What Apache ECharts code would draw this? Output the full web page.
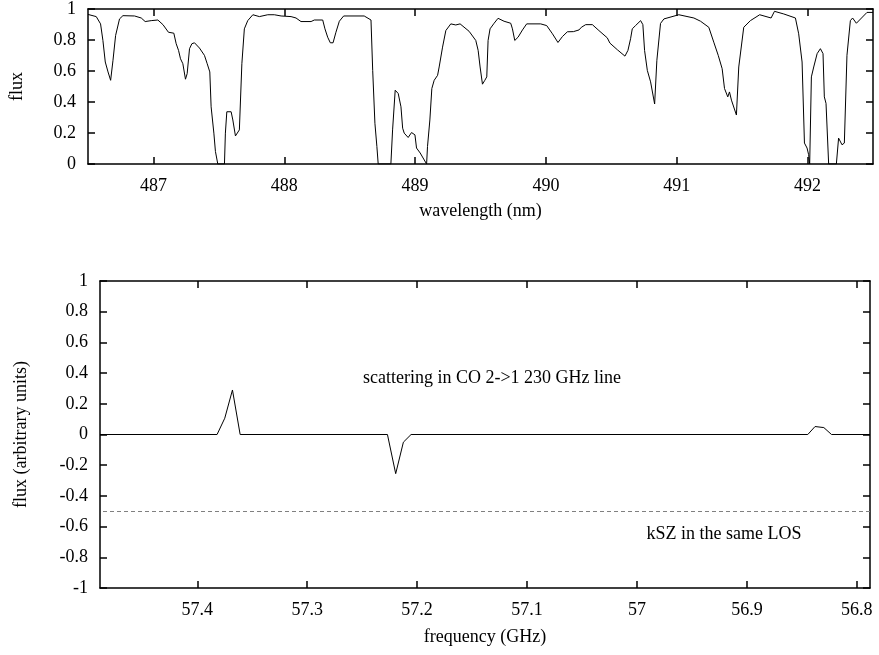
<!DOCTYPE html>
<html><head><meta charset="utf-8">
<script src="https://cdn.jsdelivr.net/npm/echarts@6/dist/echarts.min.js"></script>
<style>html,body{margin:0;padding:0;background:#fff}#c{width:879px;height:655px}</style>
</head><body><div id="c"></div>
<script>
// ---- top panel: absorption spectrum ----
const wavelength = [486.5,486.505,486.563,486.596,486.614,486.632,486.653,486.673,486.691,486.711,486.741,486.767,486.856,486.907,486.937,486.983,487.034,487.073,487.115,487.156,487.174,487.192,487.207,487.225,487.245,487.258,487.276,487.294,487.314,487.352,487.390,487.411,487.431,487.441,487.462,487.474,487.492,487.543,487.550,487.561,487.594,487.607,487.627,487.657,487.676,487.695,487.721,487.760,487.810,487.874,487.924,487.976,488.052,488.090,488.128,488.205,488.230,488.294,488.311,488.332,488.352,488.373,488.395,488.421,488.454,488.611,488.663,488.676,488.693,488.708,488.718,488.815,488.828,488.848,488.871,488.892,488.905,488.917,488.947,488.973,488.999,489.011,489.039,489.088,489.095,489.113,489.128,489.146,489.172,489.184,489.210,489.235,489.273,489.311,489.344,489.413,489.464,489.482,489.497,489.515,489.533,489.548,489.558,489.573,489.604,489.634,489.680,489.731,489.744,489.762,489.787,489.821,489.853,489.960,490.006,490.050,490.092,490.126,490.164,490.210,490.253,490.271,490.304,490.355,490.405,490.469,490.489,490.546,490.604,490.627,490.647,490.660,490.685,490.724,490.741,490.754,490.775,490.800,490.831,490.848,490.876,490.902,491.016,491.131,491.182,491.245,491.283,491.317,491.347,491.365,491.390,491.403,491.418,491.456,491.474,491.512,491.563,491.634,491.721,491.747,491.818,491.907,491.932,491.958,491.976,491.996,492.008,492.016,492.029,492.047,492.073,492.098,492.118,492.128,492.141,492.161,492.220,492.237,492.263,492.281,492.301,492.327,492.344,492.373,492.454,492.5];
const flux = [0.965,0.972,0.951,0.904,0.797,0.658,0.594,0.540,0.669,0.829,0.936,0.957,0.955,0.942,0.919,0.925,0.929,0.899,0.850,0.844,0.776,0.733,0.679,0.647,0.547,0.583,0.744,0.776,0.782,0.748,0.701,0.647,0.594,0.369,0.199,0.081,0,0,0.199,0.337,0.337,0.284,0.181,0.220,0.647,0.872,0.925,0.963,0.951,0.963,0.963,0.955,0.951,0.942,0.919,0.919,0.929,0.929,0.872,0.818,0.782,0.782,0.850,0.921,0.955,0.955,0.929,0.604,0.263,0.113,0,0,0.220,0.476,0.455,0.369,0.231,0.199,0.171,0.203,0.188,0.103,0.071,0,0.113,0.284,0.487,0.540,0.572,0.626,0.754,0.861,0.904,0.897,0.904,0.856,0.797,0.733,0.626,0.515,0.540,0.562,0.797,0.872,0.908,0.940,0.921,0.908,0.872,0.797,0.818,0.865,0.904,0.904,0.893,0.840,0.784,0.822,0.853,0.854,0.865,0.882,0.899,0.899,0.861,0.814,0.780,0.737,0.696,0.733,0.808,0.872,0.893,0.925,0.899,0.733,0.604,0.530,0.387,0.669,0.907,0.936,0.963,0.942,0.921,0.882,0.786,0.701,0.615,0.487,0.433,0.465,0.412,0.316,0.626,0.882,0.925,0.963,0.942,0.985,0.968,0.942,0.840,0.658,0.135,0.103,0.060,0,0.562,0.626,0.712,0.744,0.712,0.433,0.391,0,0,0.167,0.124,0.135,0.701,0.925,0.942,0.908,0.978,0.978];
const wavelengthTicks = [487,488,489,490,491,492];

// ---- bottom panel: CO 2->1 scattering ----
const frequency = [57.4885,57.382,57.375,57.368,57.361,57.227,57.2195,57.2125,57.2055,56.8446,56.838,56.830,56.823,56.788];
const fluxCO = [0,0,0.106,0.29,0,0,-0.255,-0.05,0,0,0.052,0.045,0,0];
const frequencyTicks = [57.4,57.3,57.2,57.1,57,56.9,56.8];
const kszLevel = -0.5;

const FONT = '"Liberation Serif","Times New Roman",serif';
const FS = 18;
const lineC = '#000';

function xAx(grid, min, max, ticks, pos, show, extra) {
  return Object.assign({
    type: 'value', gridIndex: grid, min: min, max: max, position: pos,
    axisLine: {show: true, onZero: false, lineStyle: {color: lineC, width: 1.5}},
    axisTick: {show: true, inside: true, length: 7, customValues: ticks, lineStyle: {color: lineC, width: 1.5}},
    axisLabel: {show: show, customValues: ticks, margin: 13, fontFamily: FONT, fontSize: FS, color: '#000', formatter: v => String(v)},
    splitLine: {show: false}
  }, extra || {});
}
function yAx(grid, min, max, pos, show, extra) {
  return Object.assign({
    type: 'value', gridIndex: grid, min: min, max: max, interval: 0.2, position: pos,
    axisLine: {show: true, onZero: false, lineStyle: {color: lineC, width: 1.5}},
    axisTick: {show: true, inside: true, length: 7, lineStyle: {color: lineC, width: 1.5}},
    axisLabel: {show: show, margin: 12, fontFamily: FONT, fontSize: FS, color: '#000',
      formatter: v => String(Math.round(v * 10) / 10)},
    splitLine: {show: false}
  }, extra || {});
}
const nameStyle = {fontFamily: FONT, fontSize: FS, color: '#000'};

const chart = echarts.init(document.getElementById('c'), null, {renderer: 'canvas'});
chart.setOption({
  animation: false,
  backgroundColor: '#fff',
  grid: [
    {left: 87, right: 6, top: 8, height: 156},
    {left: 100, right: 9, top: 281, height: 307}
  ],
  xAxis: [
    xAx(0, 486.5, 492.5, wavelengthTicks, 'bottom', true,
      {name: 'wavelength (nm)', nameLocation: 'middle', nameGap: 38, nameTextStyle: nameStyle}),
    xAx(0, 486.5, 492.5, wavelengthTicks, 'top', false),
    xAx(1, 56.788, 57.4885, frequencyTicks, 'bottom', true,
      {inverse: true, name: 'frequency (GHz)', nameLocation: 'middle', nameGap: 40, nameTextStyle: nameStyle}),
    xAx(1, 56.788, 57.4885, frequencyTicks, 'top', false, {inverse: true})
  ],
  yAxis: [
    yAx(0, 0, 1, 'left', true, {name: 'flux', nameLocation: 'middle', nameGap: 62, nameRotate: 90, nameTextStyle: nameStyle}),
    yAx(0, 0, 1, 'right', false),
    yAx(1, -1, 1, 'left', true, {name: 'flux (arbitrary units)', nameLocation: 'middle', nameGap: 70, nameRotate: 90, nameTextStyle: nameStyle}),
    yAx(1, -1, 1, 'right', false)
  ],
  series: [
    {
      type: 'line', xAxisIndex: 0, yAxisIndex: 0, showSymbol: false, symbol: 'none',
      data: wavelength.map((w, i) => [w, flux[i]]),
      lineStyle: {color: '#000', width: 1}, silent: true
    },
    {
      type: 'line', xAxisIndex: 2, yAxisIndex: 2, showSymbol: false, symbol: 'none',
      data: frequency.map((f, i) => [f, fluxCO[i]]),
      lineStyle: {color: '#000', width: 1}, silent: true,
      markLine: {
        silent: true, symbol: ['none', 'none'], label: {show: false},
        lineStyle: {color: '#808080', type: [4, 3], width: 1},
        data: [{yAxis: kszLevel}]
      }
    }
  ],
  graphic: [
    {type: 'text', x: 492, y: 378, style: {text: 'scattering in CO 2->1 230 GHz line', textAlign: 'center', textVerticalAlign: 'middle', font: FS + 'px ' + FONT, fill: '#000'}},
    {type: 'text', x: 724, y: 534, style: {text: 'kSZ in the same LOS', textAlign: 'center', textVerticalAlign: 'middle', font: FS + 'px ' + FONT, fill: '#000'}}
  ]
});
</script>
</body></html>
